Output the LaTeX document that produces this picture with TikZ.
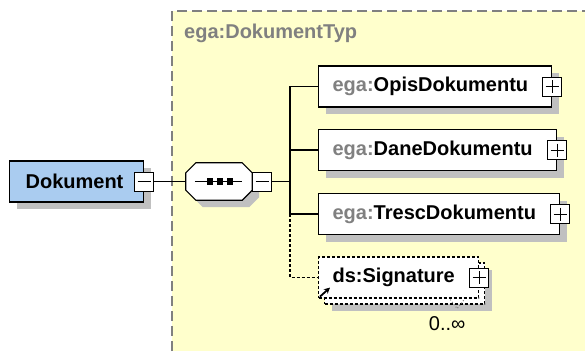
\documentclass[tikz,border=0pt]{standalone}
\usepackage{fontspec}
\setmainfont{Liberation Sans}
\usepackage{tikz}
\usetikzlibrary{calc}
\usetikzlibrary{shadows}
\usetikzlibrary{arrows.meta}
\definecolor{typefill}{RGB}{255,255,204}
\definecolor{rootfill}{RGB}{170,204,240}
\definecolor{shadowgrey}{RGB}{192,192,192}
\definecolor{nsgrey}{RGB}{128,128,128}
\newcommand{\nsprefix}[1]{\textcolor{nsgrey}{#1}}
\tikzset{
	elembase/.style={draw, line width=1.2pt, fill=white, minimum height=41pt, inner xsep=14pt, inner ysep=0pt, text width=#1, align=left, anchor=west, font=\fontsize{20}{24}\selectfont\bfseries},
	elem/.style={elembase=#1, drop shadow={shadow xshift=7pt, shadow yshift=-7pt, fill=shadowgrey, opacity=1}},
	pmbox/.style={draw, line width=1pt, fill=white, minimum size=19pt, inner sep=0pt},
	minusbox/.style={pmbox, path picture={\draw[line width=1pt] ([xshift=3pt]path picture bounding box.west) -- ([xshift=-3pt]path picture bounding box.east);}},
	plusbox/.style={pmbox, path picture={\draw[line width=1pt] ([xshift=3pt]path picture bounding box.west) -- ([xshift=-3pt]path picture bounding box.east); \draw[line width=1pt] ([yshift=-3pt]path picture bounding box.north) -- ([yshift=3pt]path picture bounding box.south);}},
	link/.style={line width=1.2pt},
	optlink/.style={line width=1.2pt, dash pattern=on 3pt off 2pt},
}

\begin{document}
\begin{tikzpicture}[x=1pt, y=-1pt]
	\useasboundingbox (0,0) rectangle (585,351);
	\fill[typefill] (172,11) rectangle (585,351);
	\draw[nsgrey, line width=1.5pt, dash pattern=on 10pt off 5pt] (172,351) -- (172,11) -- (585,11);
	\node[anchor=west, inner sep=0pt, text=nsgrey, font=\fontsize{20}{24}\selectfont\bfseries] (typname) at (184,33) {ega:DokumentTyp};
	\node[elem=102pt, fill=rootfill, inner xsep=16pt] (dokument) at (9,181.5) {Dokument};
	\node[minusbox] (dokmin) at (dokument.east) {};
	\node[minimum width=66pt, minimum height=37pt, inner sep=0pt] (seq) at (219,181.5) {};
	\draw[line width=1.2pt, fill=white, drop shadow={shadow xshift=7pt, shadow yshift=-7pt, fill=shadowgrey, opacity=1}] ($(seq.north west)+(10,0)$) -- ($(seq.north east)+(-10,0)$) -- ($(seq.north east)+(0,10)$) -- ($(seq.south east)+(0,-10)$) -- ($(seq.south east)+(-10,0)$) -- ($(seq.south west)+(10,0)$) -- ($(seq.south west)+(0,-10)$) -- ($(seq.north west)+(0,10)$) -- cycle;
	\draw[link] ($(seq.west)+(9,0)$) -- ($(seq.east)+(-10,0)$);
	\foreach \dx in {-9,1,11}
		\fill ($(seq.center)+(\dx,0)$) +(-3,-3.5) rectangle +(3,3.5);
	\node[minusbox, anchor=west] (seqmin) at (seq.east) {};
	\coordinate (fork) at (290,181.5);
	\node[elem=205pt] (opis) at (318,86.5) {\nsprefix{ega:}OpisDokumentu};
	\node[plusbox] (opisplus) at (opis.east) {};
	\node[elem=210pt] (dane) at (318,150) {\nsprefix{ega:}DaneDokumentu};
	\node[plusbox] (daneplus) at (dane.east) {};
	\node[elem=213pt] (tresc) at (318,214) {\nsprefix{ega:}TrescDokumentu};
	\node[plusbox] (trescplus) at (tresc.east) {};
	\node[elembase=132pt, dash pattern=on 3pt off 2pt, drop shadow={shadow xshift=13pt, shadow yshift=-13pt, fill=shadowgrey, opacity=1}, general shadow={shadow xshift=6pt, shadow yshift=-6pt, draw, fill=white, line width=1.2pt, dash pattern=on 3pt off 2pt}] (sig) at (318,277.5) {ds:Signature};
	\node[plusbox] (sigplus) at (sig.east) {};
	\draw[-{Stealth[length=6pt, width=6pt]}, line width=1.8pt] ($(sig.south west)+(2,-2)$) -- ++(10,-9);
	\draw[nsgrey, line width=1pt, dotted] ($(sig.south east)+(-29,1)$) -- ++(7,9) -- ++(7,-9);
	\node[inner sep=0pt, font=\fontsize{20}{24}\selectfont] (sigocc) at ($(sig.south east)+(-32,25)$) {0..∞};
	\draw[link] (dokmin.east) -- (seq.west);
	\draw[link] (seqmin.east) -- (fork);
	\draw[link] (opis.west) -- (opis.west -| fork) -- (tresc.west -| fork) -- (tresc.west);
	\draw[link] (dane.west -| fork) -- (dane.west);
	\draw[optlink] (tresc.west -| fork) |- (sig.west);
\end{tikzpicture}
\end{document}
